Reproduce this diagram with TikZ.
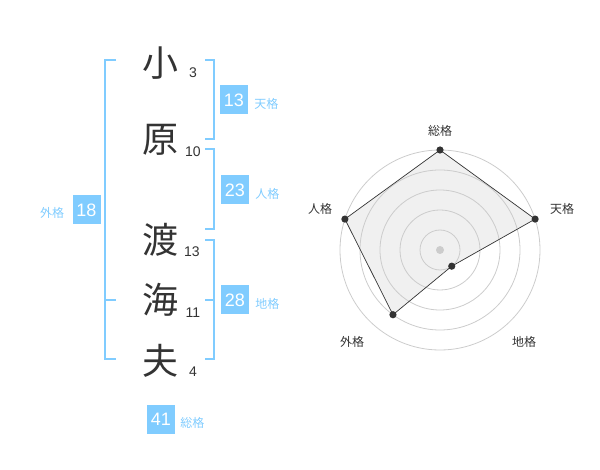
\documentclass[tikz,border=0pt]{standalone}
\usepackage{fontspec}
\usetikzlibrary{positioning}
\setmainfont{Liberation Sans}
\newfontfamily\jpfont{Noto Sans CJK JP}
\definecolor{kakublue}{HTML}{80CCFF}
\definecolor{inkgray}{HTML}{333333}
\definecolor{ringgray}{HTML}{CCCCCC}
\definecolor{areagray}{HTML}{F0F0F0}
\tikzset{
  kanji/.style={font=\jpfont\fontsize{36}{36}\selectfont, text=inkgray, inner sep=0pt},
  strokes/.style={font=\fontsize{14}{14}\selectfont, text=inkgray, inner sep=0pt, anchor=base},
  kakubox/.style={fill=kakublue, text=white, minimum width=28pt, minimum height=29pt, inner sep=0pt, font=\fontsize{18}{18}\selectfont},
  kakulabel/.style={font=\jpfont\fontsize{12}{12}\selectfont, text=kakublue, inner sep=0pt},
  bracket/.style={draw=kakublue, line width=2pt},
  axislabel/.style={font=\jpfont\fontsize{12}{12}\selectfont, text=inkgray, inner sep=0pt},
}

\begin{document}
\begin{tikzpicture}[x=1pt,y=-1pt]
    \useasboundingbox (0,0) rectangle (600,470);
    % name characters and stroke counts
    \node[kanji] (k1) at (160,63) {小};
    \node[kanji] (k2) at (160,140) {原};
    \node[kanji] (k3) at (160,240) {渡};
    \node[kanji] (k4) at (160,300) {海};
    \node[kanji] (k5) at (160,361) {夫};
    \node[strokes] (s1) at (193,78) {3};
    \node[strokes] (s2) at (193,157) {10};
    \node[strokes] (s3) at (192,257) {13};
    \node[strokes] (s4) at (193,318) {11};
    \node[strokes] (s5) at (193,377) {4};
    % brackets
    \draw[bracket] (116,60) -- (105,60) -- (105,359) -- (116,359);
    \draw[bracket] (105,300) -- (116,300);
    \draw[bracket] (205,60) -- (214,60) -- (214,139) -- (205,139);
    \draw[bracket] (205,149) -- (214,149) -- (214,229) -- (205,229);
    \draw[bracket] (205,240) -- (214,240) -- (214,359) -- (205,359);
    \draw[bracket] (205,300) -- (214,300);
    % totals
    \node[kakubox] (ten) at (234,100) {13};
    \node[kakulabel,right=6pt of ten,yshift=-4pt] (tenl) {天格};
    \node[kakubox] (jin) at (235,190) {23};
    \node[kakulabel,right=6pt of jin,yshift=-4pt] (jinl) {人格};
    \node[kakubox] (chi) at (235,300) {28};
    \node[kakulabel,right=6pt of chi,yshift=-4pt] (chil) {地格};
    \node[kakubox] (gai) at (86.5,210) {18};
    \node[kakulabel,left=8pt of gai,yshift=-3pt] (gail) {外格};
    \node[kakubox] (sou) at (161,419) {41};
    \node[kakulabel,right=5pt of sou,yshift=-4pt] (soul) {総格};
    % radar chart
    \begin{scope}[shift={(440,250)}]
        \coordinate (c) at (0,0);
        \coordinate (rsou) at (-90:100);
        \coordinate (rten) at (-18:100);
        \coordinate (rchi) at (54:20);
        \coordinate (rgai) at (126:80);
        \coordinate (rjin) at (198:100);
        \fill[areagray] (rsou) -- (rten) -- (rchi) -- (rgai) -- (rjin) -- cycle;
        \foreach \r in {20,40,60,80,100}
            \draw[ringgray, line width=0.8pt] (c) circle (\r);
        \draw[inkgray, line width=0.7pt] (rsou) -- (rten) -- (rchi) -- (rgai) -- (rjin) -- cycle;
        \fill[ringgray] (c) circle (4);
        \foreach \p in {rsou,rten,rchi,rgai,rjin}
            \fill[inkgray] (\p) circle (3.6);
    \end{scope}
    \node[axislabel] (asou) at (440,131) {総格};
    \node[axislabel] (aten) at (562,209) {天格};
    \node[axislabel] (achi) at (524,342) {地格};
    \node[axislabel] (agai) at (352,342) {外格};
    \node[axislabel] (ajin) at (320,209) {人格};
\end{tikzpicture}
\end{document}
